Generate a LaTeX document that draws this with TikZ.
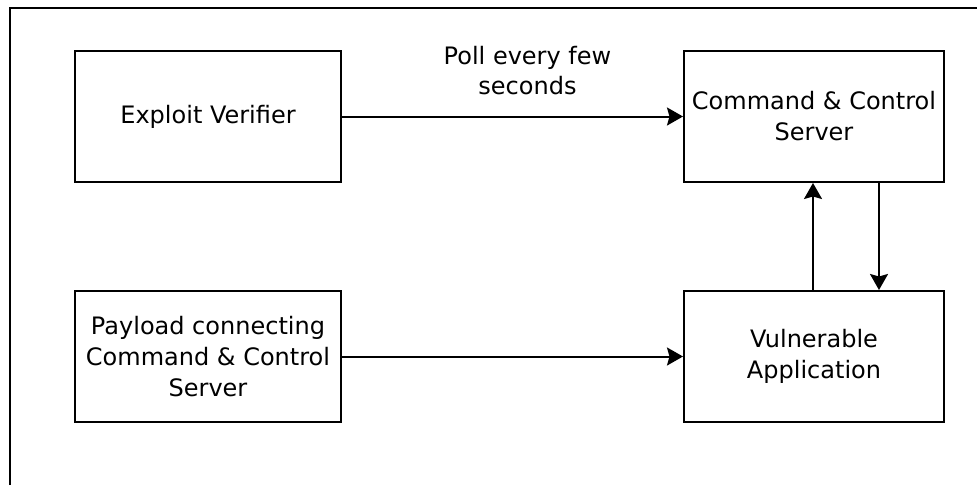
\documentclass[tikz,border=0pt]{standalone}
\usepackage{fontspec}
\setmainfont{DejaVu Sans}
\usetikzlibrary{arrows.meta,calc}
\begin{document}
\begin{tikzpicture}[x=1pt,y=-1pt,
  box/.style={draw=black,line width=2pt,minimum width=266pt,minimum height=131pt,inner sep=0pt,align=center,font=\fontsize{24}{31}\selectfont},
  lbl/.style={align=center,inner sep=0pt,font=\fontsize{24}{30}\selectfont},
  arr/.style={line width=2pt,-{Stealth[inset=2.5pt,length=16pt,width=18pt]}}]
\useasboundingbox (0,0) rectangle (977,485);
\draw[line width=2pt] (10,485) -- (10,8) -- (977,8);
\node[box] (ev) at (208,116.5) {Exploit Verifier};
\node[box,minimum width=260pt] (cc) at (814,116.5) {Command \& Control\\Server};
\node[box] (pl) at (208,356.5) {Payload connecting\\Command \& Control\\Server};
\node[box,minimum width=260pt] (va) at (814,356.5) {Vulnerable\\Application};
\draw[arr] (ev) -- (cc) node[lbl,midway,above=21pt,xshift=15pt] (poll) {Poll every few\\seconds};
\draw[arr] (pl) -- (va);
\draw[arr] ([xshift=-1pt]va.north) -- ([xshift=-1pt]cc.south);
\draw[arr] ([xshift=65pt]cc.south) -- ([xshift=65pt]va.north);
\end{tikzpicture}
\end{document}
